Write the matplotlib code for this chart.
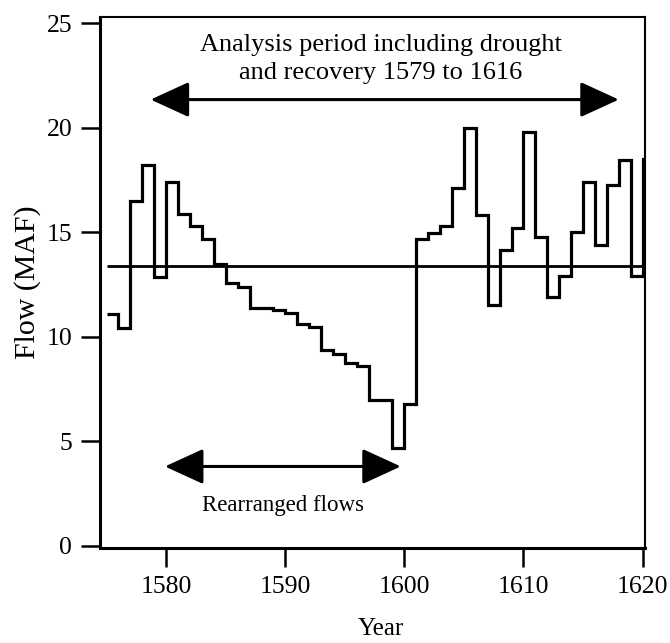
import matplotlib
matplotlib.use("Agg")
import matplotlib.pyplot as plt
import numpy as np
from matplotlib.patches import FancyArrowPatch

plt.rcParams['font.family'] = ['Liberation Serif', 'DejaVu Serif']

# ---- data ----
years = list(range(1575, 1621))
flows = [11.1, 10.4, 16.5, 18.2, 12.85, 17.4, 15.9, 15.3, 14.7, 13.5, 12.6, 12.4,
         11.4, 11.4, 11.3, 11.15, 10.6, 10.45, 9.35, 9.2, 8.75, 8.6, 7.0, 7.0, 4.7, 6.8,
         14.7, 14.95, 15.3, 17.1, 20.0, 15.85, 11.5, 14.15, 15.2, 19.8, 14.8, 11.9, 12.9,
         15.0, 17.4, 14.4, 17.25, 18.45, 12.9, 18.5]
mean_flow = 13.4
x_ticks = [1580, 1590, 1600, 1610, 1620]
y_ticks = [0, 5, 10, 15, 20, 25]
analysis_span = (1578.7, 1618.0)
rearranged_span = (1579.9, 1599.7)
analysis_text = "Analysis period including drought\nand recovery 1579 to 1616"
rearranged_text = "Rearranged flows"

fig = plt.figure(figsize=(6.7, 6.43), dpi=100)
ax = fig.add_axes([100/670, 1-548/643, 545/670, 531/643])

edges = years + [years[-1] + 1]
ax.stairs(flows, edges, baseline=None, color='black', linewidth=2.3)
ax.hlines(mean_flow, years[0], 1620.3, color='black', linewidth=2.0)

ax.set_xlim(1574.45, 1620.2)
ax.set_ylim(-0.1, 25.3)
ax.set_xticks(x_ticks)
ax.set_yticks(y_ticks)
ax.tick_params(direction='out', length=14, width=1.8, labelsize=18.5, pad=6)

for s in ['left', 'bottom']:
    ax.spines[s].set_linewidth(2.2)
for s in ['top', 'right']:
    ax.spines[s].set_linewidth(1.5)

ax.set_xlabel('Year', fontsize=18)
ax.xaxis.set_label_coords(0.515, -0.132)
ax.set_ylabel('Flow (MAF)', fontsize=21.5, labelpad=4)

def darrow(x0, x1, y):
    arr = FancyArrowPatch((x0, y), (x1, y),
                          arrowstyle='<|-|>,head_length=24,head_width=11',
                          mutation_scale=1, color='black', linewidth=2.2,
                          shrinkA=0, shrinkB=0)
    ax.add_patch(arr)

darrow(analysis_span[0], analysis_span[1], 21.35)
ax.text(1598.0, 23.3, analysis_text, ha='center', va='center', fontsize=19,
        linespacing=1.35)

darrow(rearranged_span[0], rearranged_span[1], 3.8)
ax.text(1589.8, 1.95, rearranged_text, ha='center', va='center', fontsize=16.5)

fig.savefig('out.png', dpi=100)
